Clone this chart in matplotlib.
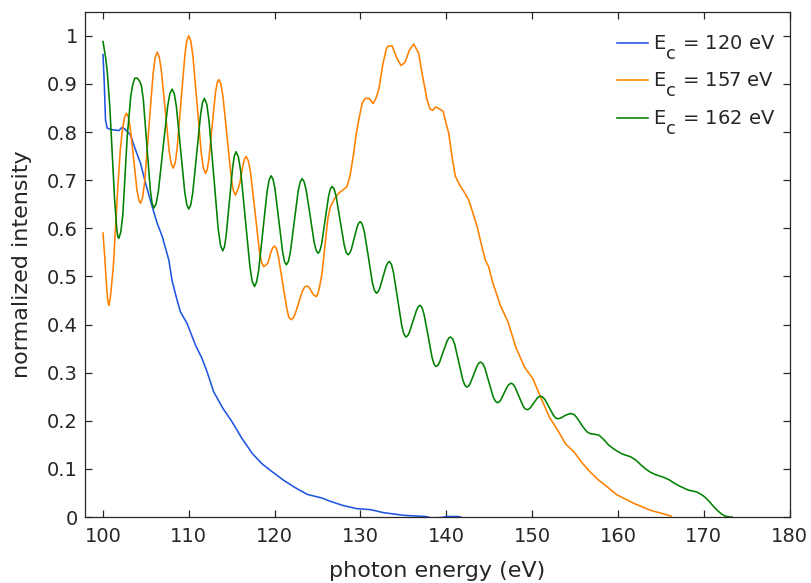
import matplotlib
matplotlib.use("Agg")
import matplotlib.pyplot as plt

# Make mathtext subscripts larger and lower (MATLAB-like rendering of E_c)
try:
    import matplotlib._mathtext as _mt
    _mt.SHRINK_FACTOR = 0.92
    for _cls_name in ('FontConstantsBase', 'DejaVuSansFontConstants'):
        _cls = getattr(_mt, _cls_name, None)
        if _cls is not None:
            _cls.sub1 = 0.95
except Exception:
    pass

plt.rcParams['font.family'] = ['DejaVu Sans']
plt.rcParams['mathtext.fontset'] = 'dejavusans'

# ---------------- data ----------------
labels = ["E$_\\mathrm{c}$ = 120 eV", "E$_\\mathrm{c}$ = 157 eV", "E$_\\mathrm{c}$ = 162 eV"]
colors = ['#1f55e0', '#ff8000', '#008000']

blue_x = [100.0, 100.15, 100.29, 100.49, 101.0, 101.84, 102.24, 102.62, 103.2, 103.79,
          104.37, 104.95, 105.73, 106.3, 106.9, 107.67, 108.06, 108.64, 109.03, 109.8,
          110.78, 111.55, 112.14, 112.9, 114.0, 115.05, 116.2, 117.4, 118.5, 119.5,
          121.07, 122.4, 123.8, 125.5, 126.5, 127.9, 129.6, 131.2, 132.7, 135.05,
          137.6, 138.3, 139.5, 140.0, 141.4, 142.0]
blue_y = [0.961, 0.9, 0.825, 0.808, 0.805, 0.803, 0.81, 0.805, 0.794, 0.763,
          0.735, 0.694, 0.645, 0.611, 0.583, 0.534, 0.49, 0.45, 0.426, 0.402,
          0.357, 0.329, 0.301, 0.26, 0.225, 0.1975, 0.163, 0.132, 0.111, 0.097,
          0.076, 0.061, 0.047, 0.0395, 0.0326, 0.0243, 0.0173, 0.0152, 0.009, 0.0035,
          0.001, -0.002, -0.001, 0.001, 0.001, -0.002]

orange_x = [100.0, 100.2, 100.45, 100.58, 100.68, 100.85, 101.2, 101.46, 101.71, 102.0,
            102.23, 102.5, 102.74, 102.94, 103.15, 103.56, 103.96, 104.17, 104.37,
            104.61, 104.86, 105.34, 105.83, 106.07, 106.31, 106.54, 106.78, 107.25,
            107.71, 107.95, 108.18, 108.41, 108.63, 109.09, 109.54, 109.76, 109.99,
            110.23, 110.48, 110.97, 111.45, 111.70, 111.94, 112.13, 112.33, 112.72,
            113.1, 113.3, 113.49, 113.73, 113.98, 114.46, 114.95, 115.19, 115.43,
            115.7, 115.94, 116.3, 116.5, 116.68, 116.94, 117.19, 117.71, 118.22,
            118.48, 118.73, 119.2, 119.6, 119.8, 119.98, 120.2, 120.4, 120.9, 121.4,
            121.65, 121.92, 122.15, 122.35, 122.8, 123.25, 123.5, 123.7, 123.9,
            124.1, 124.5, 124.83, 125.0, 125.2, 125.53, 125.9, 126.2, 126.5, 127.0,
            127.47, 128.0, 128.44, 128.8, 129.21, 129.5, 129.8, 130.2, 130.58, 131.0,
            131.47, 131.8, 132.13, 132.6, 133.0, 133.17, 133.69, 134.2, 134.73,
            135.2, 135.7, 136.2, 136.78, 137.2, 137.76, 138.1, 138.42, 138.75,
            139.05, 139.63, 139.95, 140.28, 140.7, 141.06, 141.56, 142.1, 142.61,
            143.1, 143.59, 144.1, 144.55, 144.94, 145.4, 146.3, 147.2, 148.1, 149.1,
            150.1, 151.0, 152.0, 153.0, 153.9, 154.9, 155.9, 156.8, 157.8, 158.8,
            159.9, 161.9, 163.8, 166.2]
orange_y = [0.59, 0.54, 0.47, 0.447, 0.44, 0.455, 0.52, 0.6, 0.68, 0.76,
            0.8, 0.83, 0.839, 0.832, 0.812, 0.746, 0.679, 0.659, 0.652,
            0.664, 0.698, 0.809, 0.92, 0.954, 0.966, 0.957, 0.931, 0.846,
            0.76, 0.734, 0.725, 0.735, 0.765, 0.863, 0.96, 0.99, 1.0,
            0.989, 0.958, 0.857, 0.756, 0.725, 0.714, 0.721, 0.742, 0.812,
            0.881, 0.902, 0.909, 0.9, 0.874, 0.789, 0.704, 0.678, 0.669,
            0.68, 0.694, 0.73, 0.745, 0.749, 0.74, 0.716, 0.635, 0.553,
            0.529, 0.52, 0.527, 0.552, 0.56, 0.563, 0.558, 0.545, 0.49, 0.435,
            0.415, 0.41, 0.413, 0.42, 0.445, 0.47, 0.478, 0.48, 0.479,
            0.475, 0.462, 0.458, 0.462, 0.475, 0.507, 0.57, 0.62, 0.645, 0.662,
            0.673, 0.68, 0.687, 0.71, 0.756, 0.795, 0.825, 0.86, 0.87, 0.87,
            0.859, 0.87, 0.888, 0.94, 0.972, 0.978, 0.979, 0.955, 0.938,
            0.945, 0.97, 0.983, 0.964, 0.92, 0.867, 0.848, 0.845, 0.852,
            0.85, 0.843, 0.82, 0.798, 0.745, 0.708, 0.69, 0.675, 0.659,
            0.632, 0.604, 0.566, 0.534, 0.52, 0.488, 0.44, 0.405, 0.353, 0.312,
            0.287, 0.249, 0.208, 0.18, 0.152, 0.135, 0.111, 0.093, 0.076, 0.062,
            0.046, 0.028, 0.014, 0.002]

green_x = [100.0, 100.3, 100.5, 100.8, 101.07, 101.35, 101.6, 101.72, 101.84,
           102.07, 102.31, 102.82, 103.24, 103.47, 103.7, 104.0, 104.29,
           104.49, 104.7, 105.1, 105.51, 105.72, 105.92,
           106.19, 106.46, 106.99, 107.53, 107.79, 108.06,
           108.30, 108.55, 109.03, 109.52, 109.76, 110.0,
           110.23, 110.46, 110.91, 111.37, 111.59, 111.82,
           112.09, 112.35, 112.89, 113.42, 113.69, 113.95,
           114.15, 114.34, 114.73, 115.12, 115.32, 115.51,
           115.78, 116.05, 116.58, 117.12, 117.38, 117.65,
           117.89, 118.14, 118.62, 119.11, 119.35, 119.59,
           119.81, 120.04, 120.48, 120.93, 121.15, 121.37,
           121.6, 121.83, 122.29, 122.74, 122.97, 123.2,
           123.43, 123.67, 124.14, 124.6, 124.84, 125.07,
           125.27, 125.48, 125.89, 126.29, 126.5, 126.7,
           126.93, 127.17, 127.63, 128.1, 128.33, 128.56,
           128.74, 128.92, 129.28, 129.63, 129.81, 129.99,
           130.22, 130.46, 130.93, 131.39, 131.63, 131.86,
           132.05, 132.24, 132.62, 132.99, 133.18, 133.37,
           133.61, 133.85, 134.33, 134.82, 135.06, 135.3,
           135.51, 135.71, 136.12, 136.54, 136.74, 136.95,
           137.18, 137.41, 137.88, 138.34, 138.57, 138.8,
           139.01, 139.23, 139.65, 140.08, 140.29, 140.5,
           140.74, 140.98, 141.45, 141.93, 142.16, 142.4,
           142.6, 142.8, 143.2, 143.6, 143.8, 144.0,
           144.24, 144.49, 144.98, 145.46, 145.71, 145.95,
           146.15, 146.35, 146.75, 147.15, 147.35, 147.55,
           147.78, 148.01, 148.48, 148.94, 149.17, 149.4,
           149.6, 149.8, 150.2, 150.6, 150.8, 151.0,
           151.25, 151.5, 152.0, 152.5, 152.75, 153.0,
           153.4, 153.75, 154.1, 154.5, 154.9, 155.2, 155.9, 156.4, 156.8, 157.3,
           157.8, 158.3, 158.9, 159.4, 159.9, 160.5, 161.0, 161.5, 162.1, 162.7,
           163.3, 163.8, 164.4, 164.9, 165.4, 166.0, 166.6, 167.2, 167.7, 168.2,
           168.7, 169.2, 169.7, 170.1, 170.5, 170.9, 171.3, 171.7, 172.1, 172.5,
           173.0, 173.3]
green_y = [0.988, 0.955, 0.925, 0.85, 0.756, 0.66, 0.6, 0.583, 0.579,
           0.592, 0.628, 0.79, 0.875, 0.899, 0.912, 0.912, 0.905,
           0.895, 0.867, 0.774, 0.68, 0.652, 0.642,
           0.651, 0.678, 0.766, 0.853, 0.88, 0.889,
           0.88, 0.853, 0.765, 0.676, 0.649, 0.64,
           0.649, 0.674, 0.755, 0.836, 0.861, 0.87,
           0.858, 0.824, 0.712, 0.599, 0.565, 0.553,
           0.561, 0.583, 0.656, 0.729, 0.751, 0.759,
           0.748, 0.718, 0.619, 0.52, 0.49, 0.479,
           0.488, 0.513, 0.594, 0.675, 0.7, 0.709,
           0.702, 0.682, 0.617, 0.551, 0.531, 0.524,
           0.531, 0.55, 0.614, 0.677, 0.696, 0.703,
           0.697, 0.68, 0.626, 0.571, 0.554, 0.548,
           0.553, 0.568, 0.618, 0.667, 0.682, 0.687,
           0.682, 0.666, 0.616, 0.566, 0.55, 0.545,
           0.548, 0.555, 0.58, 0.604, 0.611, 0.614,
           0.608, 0.592, 0.54, 0.487, 0.471, 0.465,
           0.468, 0.475, 0.498, 0.521, 0.528, 0.531,
           0.525, 0.508, 0.453, 0.397, 0.38, 0.374,
           0.377, 0.384, 0.407, 0.43, 0.437, 0.44,
           0.435, 0.421, 0.377, 0.332, 0.318, 0.313,
           0.315, 0.322, 0.344, 0.365, 0.372, 0.374,
           0.37, 0.359, 0.322, 0.285, 0.274, 0.27,
           0.272, 0.278, 0.296, 0.314, 0.32, 0.322,
           0.319, 0.31, 0.28, 0.25, 0.241, 0.2375,
           0.239, 0.243, 0.258, 0.272, 0.276, 0.278,
           0.276, 0.27, 0.2505, 0.231, 0.225, 0.223,
           0.224, 0.227, 0.237, 0.247, 0.25, 0.251,
           0.249, 0.244, 0.2275, 0.211, 0.206, 0.204,
           0.206, 0.21, 0.213, 0.215, 0.213, 0.207, 0.188, 0.177, 0.173, 0.172,
           0.17, 0.162, 0.15, 0.143, 0.137, 0.131, 0.128, 0.125, 0.118, 0.108,
           0.099, 0.093, 0.088, 0.085, 0.082, 0.077, 0.07, 0.064, 0.06, 0.056,
           0.054, 0.052, 0.047, 0.042, 0.035, 0.027, 0.019, 0.012, 0.006, 0.002,
           0.0, 0.0]

x_ticks = [100, 110, 120, 130, 140, 150, 160, 170, 180]
y_ticks = [0, 0.1, 0.2, 0.3, 0.4, 0.5, 0.6, 0.7, 0.8, 0.9, 1]
y_tick_labels = ['0', '0.1', '0.2', '0.3', '0.4', '0.5', '0.6', '0.7', '0.8', '0.9', '1']

# ---------------- plot ----------------
fig = plt.figure(figsize=(8.11, 5.83), dpi=100)
ax = fig.add_axes([0.1048, 0.1132, 0.8687, 0.8667])

series = [(blue_x, blue_y), (orange_x, orange_y), (green_x, green_y)]
for (xs, ys), c, lab in zip(series, colors, labels):
    ax.plot(xs, ys, color=c, lw=1.15, label=lab)

ax.set_xlim(97.9, 180)
ax.set_ylim(0, 1.05)
ax.set_xticks(x_ticks)
ax.set_yticks(y_ticks)
ax.set_yticklabels(y_tick_labels)

dark = '#262626'
for s in ax.spines.values():
    s.set_color(dark)
    s.set_linewidth(0.9)
ax.tick_params(direction='in', length=5, width=0.9, colors=dark, labelsize=14,
               top=True, right=True)
ax.tick_params(axis='y', pad=5)
ax.tick_params(axis='x', pad=7)
for t in ax.get_xticklabels() + ax.get_yticklabels():
    t.set_color(dark)

ax.set_xlabel('photon energy (eV)', fontsize=16, color=dark, labelpad=11)
ax.set_ylabel('normalized intensity', fontsize=16, color=dark, labelpad=11)

leg = ax.legend(loc='upper right', frameon=False, fontsize=14,
                handlelength=1.6, handletextpad=0.25, labelspacing=0.47,
                borderaxespad=0.3, bbox_to_anchor=(0.9985, 0.984))
for t in leg.get_texts():
    t.set_color(dark)

fig.savefig('out.png', dpi=100)
